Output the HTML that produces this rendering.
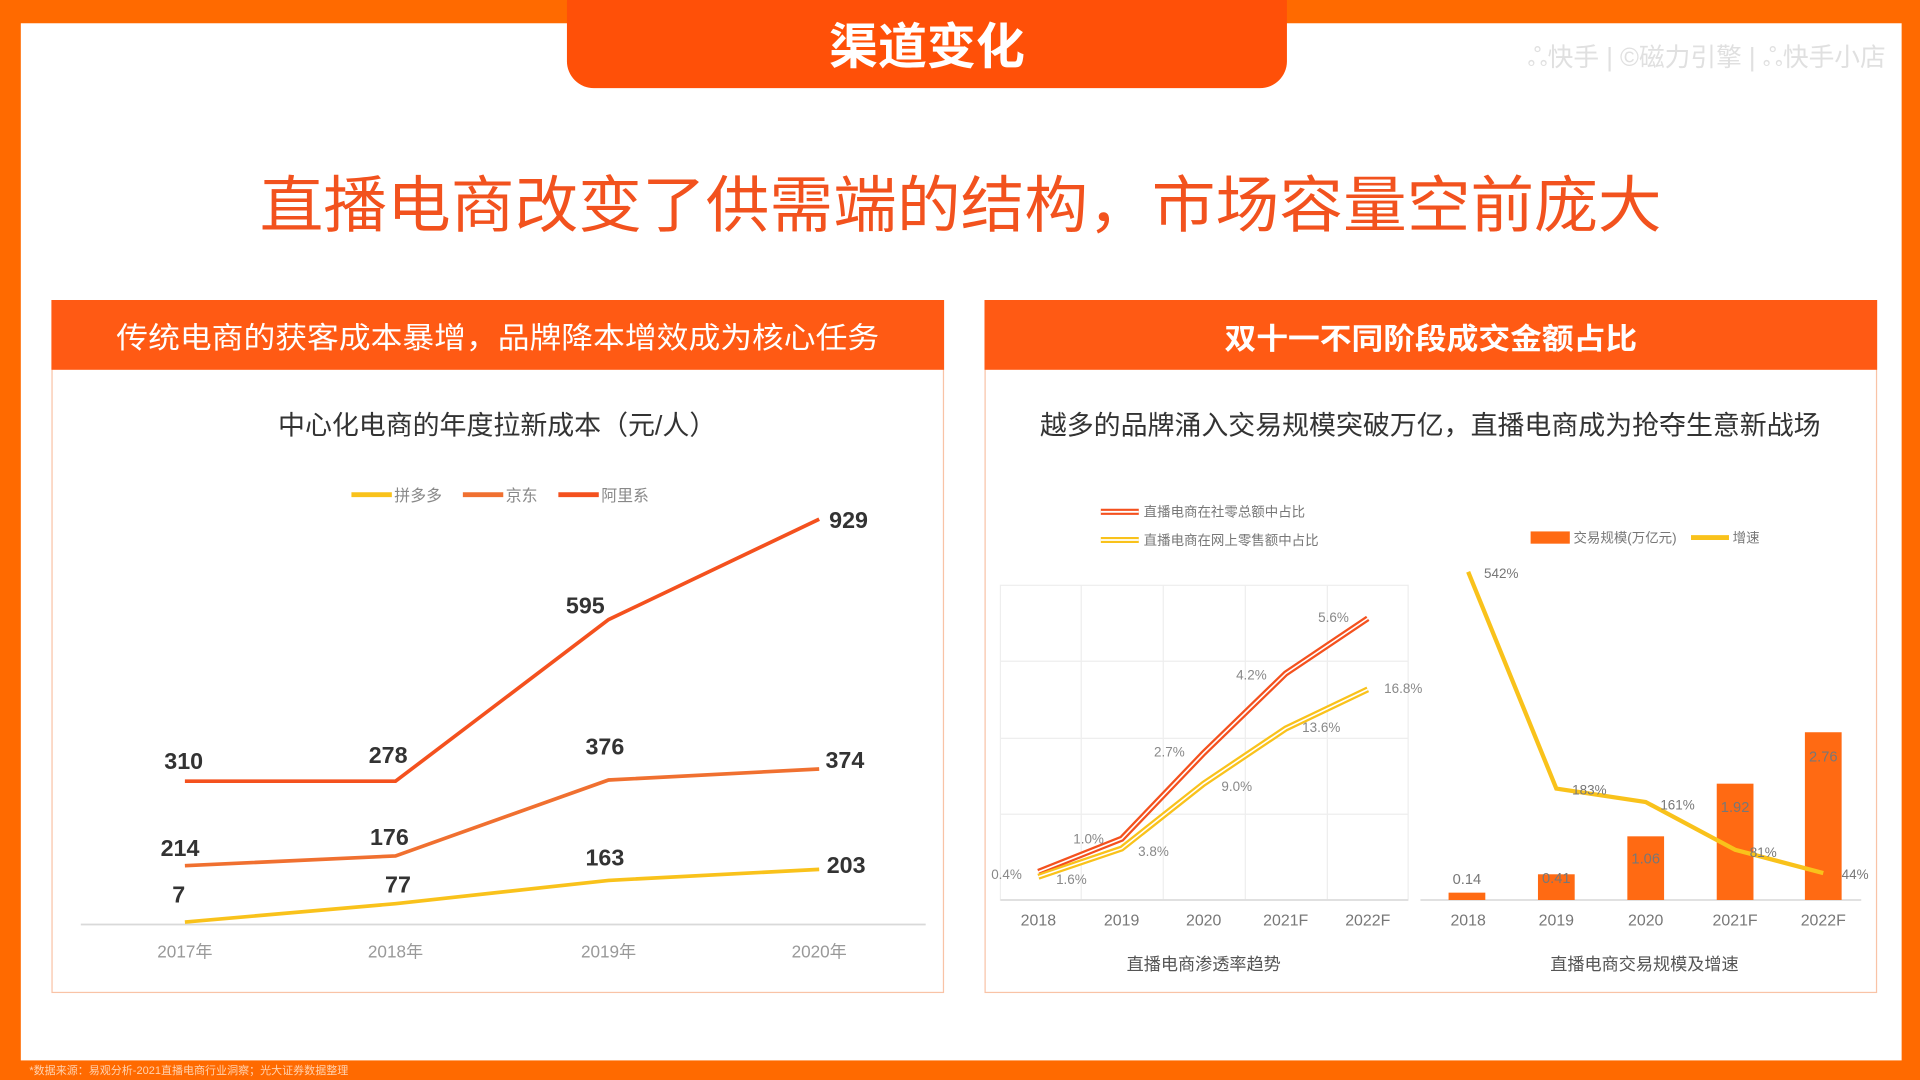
<!DOCTYPE html>
<html><head><meta charset="utf-8"><style>
html,body{margin:0;padding:0;background:#ff6a00;}
svg{display:block;}
text{font-family:"Liberation Sans","Noto Sans CJK SC",sans-serif;}
</style></head><body>
<svg width="1920" height="1080" viewBox="0 0 1568 882" xmlns="http://www.w3.org/2000/svg">
<rect x="0" y="0" width="1568" height="882" fill="#ff6a00"/>
<rect x="17" y="19" width="1536" height="847" fill="#ffffff"/>
<text x="24" y="877" font-size="9" fill="#ffd2b0">*数据来源：易观分析-2021直播电商行业洞察；光大证券数据整理</text>
<!-- top tab -->
<rect x="463" y="-20" width="588" height="92" rx="22" fill="#ff5008"/>
<text x="757" y="52" font-size="40" font-weight="bold" fill="#fff" text-anchor="middle">渠道变化</text>
<text x="1540" y="54" font-size="21" fill="#e0e0e0" text-anchor="end">ஃ快手 | ©磁力引擎 | ஃ快手小店</text>
<!-- headline -->
<text x="212" y="185" font-size="50" fill="#f2521e" textLength="1145" lengthAdjust="spacingAndGlyphs">直播电商改变了供需端的结构，市场容量空前庞大</text>

<!-- left panel -->
<rect x="42.5" y="245.5" width="728" height="565" fill="#fff" stroke="#f9c3a6"/>
<rect x="42" y="245" width="729" height="57" fill="#ff5a14"/>
<text x="95" y="284" font-size="24" fill="#fff" textLength="623" lengthAdjust="spacingAndGlyphs">传统电商的获客成本暴增，品牌降本增效成为核心任务</text>
<text x="406" y="355" font-size="22" fill="#333" text-anchor="middle">中心化电商的年度拉新成本（元/人）</text>
<line x1="287" y1="404" x2="320" y2="404" stroke="#f9c21b" stroke-width="4"/>
<text x="322" y="409" font-size="13" fill="#888">拼多多</text>
<line x1="378" y1="404" x2="411" y2="404" stroke="#f07030" stroke-width="4"/>
<text x="413" y="409" font-size="13" fill="#888">京东</text>
<line x1="456" y1="404" x2="489" y2="404" stroke="#f4511e" stroke-width="4"/>
<text x="491" y="409" font-size="13" fill="#888">阿里系</text>
<line x1="66" y1="755" x2="756" y2="755" stroke="#d9d9d9" stroke-width="1.5"/>
<polyline points="151,638 323,638 497,506 669,424" fill="none" stroke="#f4511e" stroke-width="3"/>
<polyline points="151,707 323,699 497,637 669,628" fill="none" stroke="#f07030" stroke-width="3"/>
<polyline points="151,753 323,738 497,719 669,710" fill="none" stroke="#f9c21b" stroke-width="3"/>
<g font-size="19" fill="#333" font-weight="bold" text-anchor="middle">
<text x="150" y="628">310</text><text x="317" y="623">278</text><text x="478" y="501">595</text><text x="693" y="431">929</text>
<text x="147" y="699">214</text><text x="318" y="690">176</text><text x="494" y="616">376</text><text x="690" y="627">374</text>
<text x="146" y="737">7</text><text x="325" y="729">77</text><text x="494" y="707">163</text><text x="691" y="713">203</text>
</g>
<g font-size="14" fill="#999" text-anchor="middle">
<text x="151" y="782">2017年</text><text x="323" y="782">2018年</text><text x="497" y="782">2019年</text><text x="669" y="782">2020年</text>
</g>

<!-- right panel -->
<rect x="804.5" y="245.5" width="728" height="565" fill="#fff" stroke="#f9c3a6"/>
<rect x="804" y="245" width="729" height="57" fill="#ff5a14"/>
<text x="1000" y="285" font-size="24" font-weight="bold" fill="#fff" textLength="337" lengthAdjust="spacingAndGlyphs">双十一不同阶段成交金额占比</text>
<text x="1168" y="355" font-size="22" fill="#333" text-anchor="middle">越多的品牌涌入交易规模突破万亿，直播电商成为抢夺生意新战场</text>
<!-- legend left -->
<line x1="899" y1="418" x2="930" y2="418" stroke="#f4511e" stroke-width="5"/>
<line x1="899" y1="418" x2="930" y2="418" stroke="#fff" stroke-width="1.5"/>
<text x="934" y="422" font-size="11" fill="#777">直播电商在社零总额中占比</text>
<line x1="899" y1="441" x2="930" y2="441" stroke="#f9c21b" stroke-width="5"/>
<line x1="899" y1="441" x2="930" y2="441" stroke="#fff" stroke-width="1.5"/>
<text x="934" y="445" font-size="11" fill="#777">直播电商在网上零售额中占比</text>
<!-- grid -->
<g stroke="#eeeeee" stroke-width="1">
<rect x="817" y="478" width="333" height="257" fill="none"/>
<line x1="883" y1="478" x2="883" y2="735"/><line x1="950" y1="478" x2="950" y2="735"/><line x1="1017" y1="478" x2="1017" y2="735"/><line x1="1084" y1="478" x2="1084" y2="735"/>
<line x1="817" y1="540" x2="1150" y2="540"/><line x1="817" y1="603" x2="1150" y2="603"/><line x1="817" y1="665" x2="1150" y2="665"/>
</g>
<line x1="817" y1="735" x2="1150" y2="735" stroke="#ddd" stroke-width="1.5"/>
<polyline points="848,712 916,685 983,615 1050,550 1117,505" fill="none" stroke="#f4511e" stroke-width="5"/>
<polyline points="848,712 916,685 983,615 1050,550 1117,505" fill="none" stroke="#fff" stroke-width="1.3"/>
<polyline points="848,716 916,693 983,640 1050,595 1117,563" fill="none" stroke="#f9c21b" stroke-width="5"/>
<polyline points="848,716 916,693 983,640 1050,595 1117,563" fill="none" stroke="#fff" stroke-width="1.3"/>
<g font-size="11" fill="#888" text-anchor="middle">
<text x="822" y="718">0.4%</text><text x="875" y="722">1.6%</text><text x="889" y="689">1.0%</text><text x="942" y="699">3.8%</text>
<text x="955" y="618">2.7%</text><text x="1010" y="646">9.0%</text><text x="1022" y="555">4.2%</text><text x="1079" y="598">13.6%</text>
<text x="1089" y="508">5.6%</text><text x="1146" y="566">16.8%</text>
</g>
<g font-size="13" fill="#777" text-anchor="middle">
<text x="848" y="756">2018</text><text x="916" y="756">2019</text><text x="983" y="756">2020</text><text x="1050" y="756">2021F</text><text x="1117" y="756">2022F</text>
</g>
<text x="983" y="792" font-size="14" fill="#555" text-anchor="middle">直播电商渗透率趋势</text>
<!-- right sub chart -->
<rect x="1250" y="434" width="32" height="10" fill="#ff6a13"/>
<text x="1285" y="443" font-size="11" fill="#777">交易规模(万亿元)</text>
<line x1="1381" y1="439" x2="1412" y2="439" stroke="#f9c21b" stroke-width="4"/>
<text x="1415" y="443" font-size="11" fill="#777">增速</text>
<line x1="1160" y1="735" x2="1520" y2="735" stroke="#ddd" stroke-width="1.5"/>
<g fill="#ff6a13">
<rect x="1183" y="729" width="30" height="6"/><rect x="1256" y="714" width="30" height="21"/><rect x="1329" y="683" width="30" height="52"/><rect x="1402" y="640" width="30" height="95"/><rect x="1474" y="598" width="30" height="137"/>
</g>
<polyline points="1199,467 1271,644 1344,655 1417,694 1489,713" fill="none" stroke="#f9c21b" stroke-width="3.5"/>
<g font-size="12" fill="#777" text-anchor="middle">
<text x="1198" y="722">0.14</text><text x="1271" y="721">0.41</text><text x="1344" y="705">1.06</text><text x="1417" y="663">1.92</text><text x="1489" y="622">2.76</text>
<text x="1226" y="472" font-size="11">542%</text><text x="1298" y="649" font-size="11">183%</text><text x="1370" y="661" font-size="11">161%</text><text x="1440" y="700" font-size="11">81%</text><text x="1515" y="718" font-size="11">44%</text>
</g>
<g font-size="13" fill="#777" text-anchor="middle">
<text x="1199" y="756">2018</text><text x="1271" y="756">2019</text><text x="1344" y="756">2020</text><text x="1417" y="756">2021F</text><text x="1489" y="756">2022F</text>
</g>
<text x="1343" y="792" font-size="14" fill="#555" text-anchor="middle">直播电商交易规模及增速</text>
</svg>
</body></html>
